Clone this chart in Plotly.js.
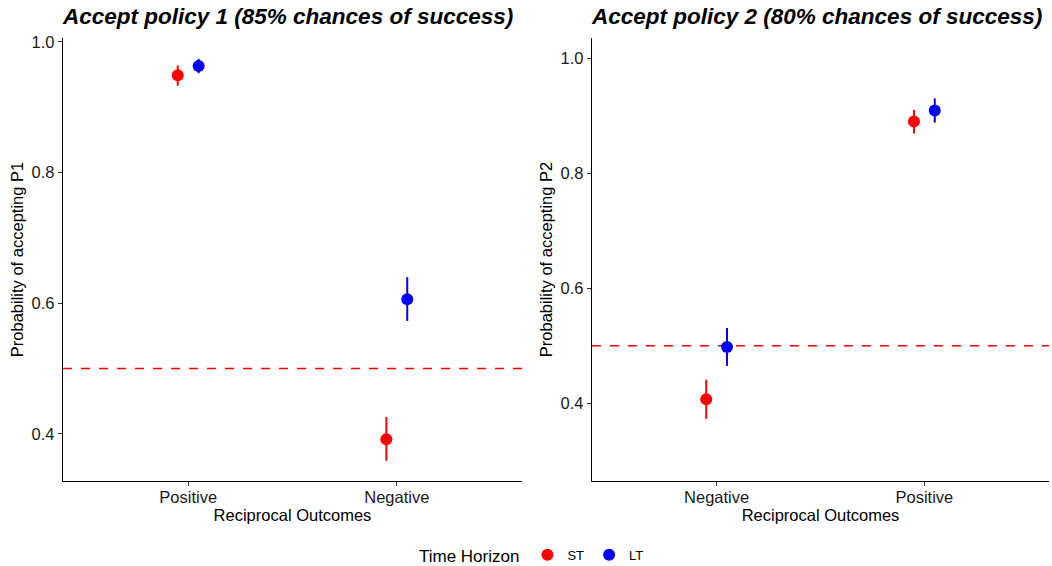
<!DOCTYPE html>
<html><head><meta charset="utf-8">
<script src="https://cdn.plot.ly/plotly-3.0.1.min.js"></script>
<style>html,body{margin:0;padding:0;background:#fff}#chart{width:1052px;height:566px}</style>
</head><body><div id="chart"></div>
<script>
// Panel 1 (policy 1)
const cats1 = ["Positive", "Negative"];
const st1 = [0.949, 0.392];
const st1Lo = [0.933, 0.359];
const st1Hi = [0.964, 0.426];
const lt1 = [0.963, 0.606];
const lt1Lo = [0.952, 0.573];
const lt1Hi = [0.974, 0.640];
// Panel 2 (policy 2)
const cats2 = ["Negative", "Positive"];
const st2 = [0.407, 0.890];
const st2Lo = [0.373, 0.869];
const st2Hi = [0.441, 0.910];
const lt2 = [0.498, 0.909];
const lt2Lo = [0.465, 0.888];
const lt2Hi = [0.531, 0.930];
const refLine = 0.5;
const titles = ["Accept policy 1 (85% chances of success)", "Accept policy 2 (80% chances of success)"];
const yTitles = ["Probability of accepting P1", "Probability of accepting P2"];
const xTitle = "Reciprocal Outcomes";
const groups = ["ST", "LT"];
const yTicks1 = [0.4, 0.6, 0.8, 1.0];
const yTicks2 = [0.4, 0.6, 0.8, 1.0];

const dodge = 0.05;
const pos = c => c.map((_, i) => i + 1);

function trace(cats, y, lo, hi, name, color, offset, xa, ya, show) {
  return {
    type: "scatter", mode: "markers",
    x: pos(cats).map(v => v + offset), y: y,
    xaxis: xa, yaxis: ya, name: name, showlegend: show, legendgroup: name,
    marker: {color: color, size: 12},
    error_y: {type: "data", symmetric: false,
      array: hi.map((h, i) => h - y[i]), arrayminus: lo.map((l, i) => y[i] - l),
      color: color, thickness: 2, width: 0}
  };
}

const data = [
  trace(cats1, st1, st1Lo, st1Hi, groups[0], "#FF0000", -dodge, "x", "y", true),
  trace(cats1, lt1, lt1Lo, lt1Hi, groups[1], "#0000FF", dodge, "x", "y", true),
  trace(cats2, st2, st2Lo, st2Hi, groups[0], "#FF0000", -dodge, "x2", "y2", false),
  trace(cats2, lt2, lt2Lo, lt2Hi, groups[1], "#0000FF", dodge, "x2", "y2", false)
];

const font = {family: "Liberation Sans, Arial, sans-serif", color: "#000"};
function xaxis(cats, domain) {
  return {domain: domain, range: [0.4, cats.length + 0.6], tickvals: pos(cats), ticktext: cats,
    showgrid: false, zeroline: false, showline: true, linecolor: "#000", linewidth: 1.2,
    ticks: "outside", ticklen: 4, tickcolor: "#333", tickwidth: 1,
    tickfont: {size: 16.5, color: "#1a1a1a"}, ticklabelstandoff: -3,
    title: {text: xTitle, font: {size: 16.5, color: "#000"}, standoff: 3}, fixedrange: true};
}
function yaxis(range, ticks, title, anchor) {
  return {range: range, tickvals: ticks, ticktext: ticks.map(v => v.toFixed(1)), anchor: anchor,
    showgrid: false, zeroline: false, showline: true, linecolor: "#000", linewidth: 1.2,
    ticks: "outside", ticklen: 4, tickcolor: "#333", tickwidth: 1,
    tickfont: {size: 16.5, color: "#1a1a1a"},
    title: {text: title, font: {size: 16.5, color: "#000"}, standoff: 3}, fixedrange: true};
}

const d1 = [0, 0.4655], d2 = [0.5365, 1.0];
const layout = {
  width: 1052, height: 566,
  margin: {l: 63, r: 3, t: 38, b: 85, autoexpand: false},
  paper_bgcolor: "#fff", plot_bgcolor: "#fff",
  font: font,
  xaxis: xaxis(cats1, d1),
  yaxis: yaxis([0.328, 1.006], yTicks1, yTitles[0], "x"),
  xaxis2: xaxis(cats2, d2),
  yaxis2: yaxis([0.265, 1.035], yTicks2, yTitles[1], "x2"),
  shapes: [
    {type: "line", xref: "x domain", yref: "y", x0: 0, x1: 1, y0: refLine, y1: refLine,
     line: {color: "#FF0000", width: 1.5, dash: "dash"}, layer: "below"},
    {type: "line", xref: "x2 domain", yref: "y2", x0: 0, x1: 1, y0: refLine, y1: refLine,
     line: {color: "#FF0000", width: 1.5, dash: "dash"}, layer: "below"}
  ],
  annotations: [
    {text: "<b><i>" + titles[0] + "</i></b>", xref: "x domain", yref: "paper", x: 0, y: 1, xanchor: "left", yanchor: "bottom", xshift: -3, yshift: 7, showarrow: false, font: {size: 22.5, color: "#000"}},
    {text: "<b><i>" + titles[1] + "</i></b>", xref: "x2 domain", yref: "paper", x: 0, y: 1, xanchor: "left", yanchor: "bottom", xshift: -3, yshift: 7, showarrow: false, font: {size: 22.5, color: "#000"}}
  ],
  legend: {orientation: "h", x: 0.359, xanchor: "left", y: -0.17, yanchor: "middle",
    title: {text: "Time Horizon", font: {size: 17, color: "#000"}, side: "left"},
    font: {size: 13, color: "#000"}, itemwidth: 30},
  showlegend: true
};

Plotly.newPlot("chart", data, layout, {displayModeBar: false, staticPlot: true});
</script>
</body></html>
